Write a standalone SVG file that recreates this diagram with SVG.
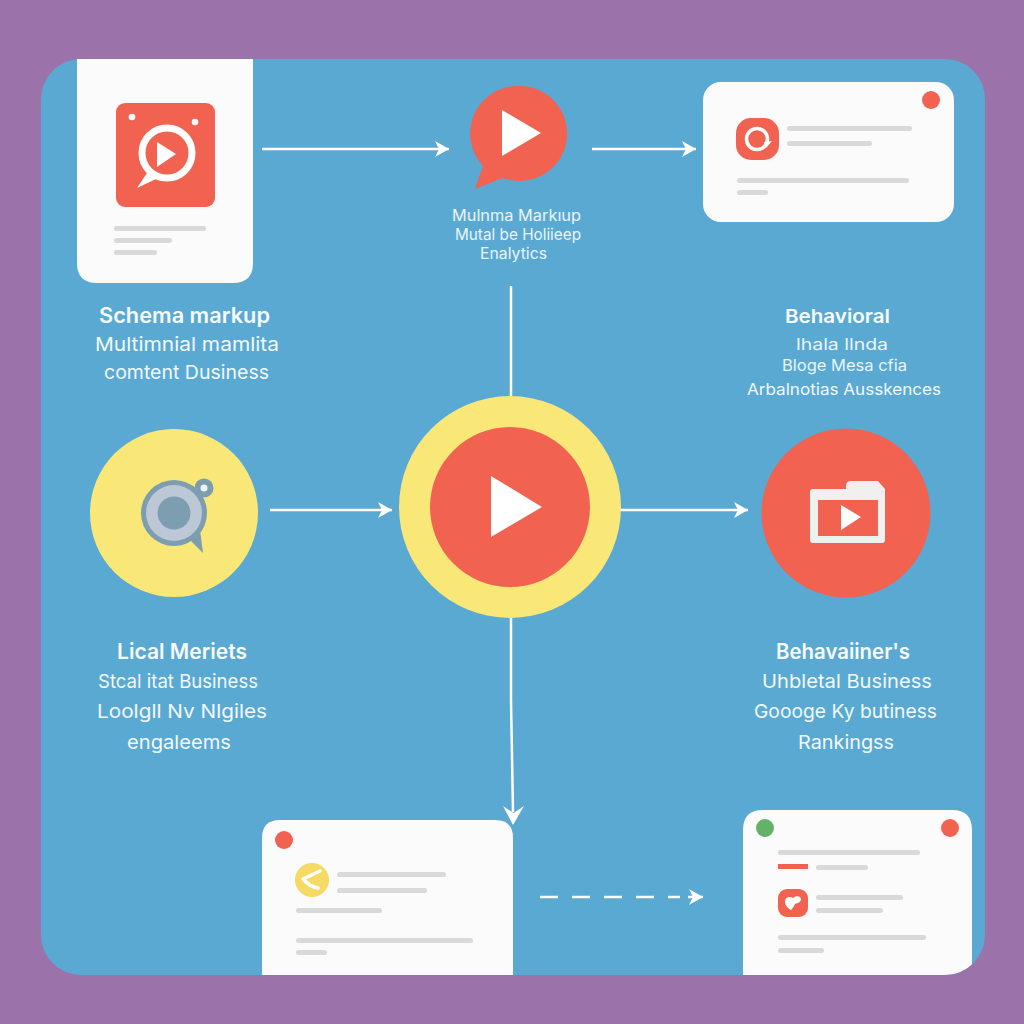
<svg xmlns="http://www.w3.org/2000/svg" width="1024" height="1024" viewBox="0 0 1024 1024">
<style>
.card{fill:#fbfbfb}
.bar{fill:#d9d9da}
.red{fill:#f16250}
.wht{fill:#fff}
.yel{fill:#f9e878}
.dot{fill:#f16250}
.ln{fill:none;stroke:#fff;stroke-width:2.500}
.t{font-family:"Inter","Liberation Sans",sans-serif;fill:#f2f9fc;text-anchor:middle;font-size:19px}
.h{font-family:"Inter","Liberation Sans",sans-serif;fill:#f7fbfd;text-anchor:middle;font-size:21px;font-weight:600}
.s{font-family:"Inter","Liberation Sans",sans-serif;fill:#eaf5fa;text-anchor:middle;font-size:15.500px}
</style>
<defs>
<marker id="arr" markerUnits="userSpaceOnUse" markerWidth="20" markerHeight="20" refX="15" refY="10" orient="auto"><path d="M1 2L15 10L1 18L5 10Z" fill="#fff"/></marker>
<clipPath id="panel"><rect x="41" y="59" width="944" height="916" rx="40"/></clipPath>
</defs>
<rect id="background" width="1024" height="1024" fill="#9b72aa"/>
<rect id="panel-bg" x="41" y="59" width="944" height="916" rx="40" fill="#5aa9d3"/>

<g id="connectors">
<path class="ln" d="M262 149H449" marker-end="url(#arr)"/>
<path class="ln" d="M592 149H696" marker-end="url(#arr)"/>
<path class="ln" d="M511 286V396"/>
<path class="ln" d="M270 510H392" marker-end="url(#arr)"/>
<path class="ln" d="M620 510H748" marker-end="url(#arr)"/>
<path class="ln" d="M511 618V700L513 812"/>
<path class="ln" d="M540 897H680" stroke-dasharray="18 14"/>
<path class="ln" d="M688 897H703" marker-end="url(#arr)"/>
</g>

<g id="node-schema-card">
<path class="card" d="M77 59H253V263Q253 283 233 283H97Q77 283 77 263Z"/>
<rect class="red" x="116" y="103" width="99" height="104" rx="9"/>
<circle class="wht" cx="132" cy="117" r="3.300"/><circle class="wht" cx="195" cy="122" r="3.300"/>
<path class="wht" d="M147 173L137 188L158 178Z"/>
<circle cx="167" cy="153" r="25" fill="none" stroke="#fff" stroke-width="7"/>
<path class="wht" d="M157 142L176 154L157 167Z"/>
<rect class="bar" x="114" y="226" width="92" height="5" rx="2.500"/>
<rect class="bar" x="114" y="238" width="58" height="5" rx="2.500"/>
<rect class="bar" x="114" y="250" width="43" height="5" rx="2.500"/>
</g>
<g id="label-schema">
<text class="h" x="184.500" y="323" textLength="171" lengthAdjust="spacingAndGlyphs">Schema markup</text>
<text class="t" x="187" y="351" textLength="184" lengthAdjust="spacingAndGlyphs">Multimnial mamlita</text>
<text class="t" x="186.500" y="379" textLength="165" lengthAdjust="spacingAndGlyphs">comtent  Dusiness</text>
</g>

<g id="node-play-bubble">
<path class="red" d="M519 86A47.500 47.500 0 1 1 503 178L475 189L483 166A47.500 47.500 0 0 1 519 86Z"/>
<path class="wht" d="M502 110L541 133L502 156Z"/>
</g>
<g id="label-multimedia">
<text class="s" x="516.500" y="221" textLength="129" lengthAdjust="spacingAndGlyphs">Mulnma Markıup</text>
<text class="s" x="518" y="240" textLength="126" lengthAdjust="spacingAndGlyphs">Mutal be Holiieep</text>
<text class="s" x="513.500" y="259" textLength="67" lengthAdjust="spacingAndGlyphs">Enalytics</text>
</g>

<g id="node-top-card">
<rect class="card" x="703" y="82" width="251" height="140" rx="18"/>
<circle class="dot" cx="931" cy="100" r="9"/>
<rect class="red" x="736" y="118" width="43" height="42" rx="15"/>
<circle cx="757" cy="139" r="10.500" fill="none" stroke="#fff" stroke-width="3.500"/>
<path class="wht" d="M764 142L772 141L766 148Z"/>
<rect class="bar" x="787" y="126" width="125" height="5" rx="2.500"/>
<rect class="bar" x="787" y="141" width="85" height="5" rx="2.500"/>
<rect class="bar" x="737" y="178" width="172" height="5" rx="2.500"/>
<rect class="bar" x="737" y="190" width="31" height="5" rx="2.500"/>
</g>
<g id="label-behavioral">
<text class="h" x="837.500" y="323" style="font-size:19px" textLength="105" lengthAdjust="spacingAndGlyphs">Behavioral</text>
<text class="s" x="842" y="350" style="font-size:16px" textLength="92" lengthAdjust="spacingAndGlyphs">lhala  llnda</text>
<text class="s" x="844.500" y="371" textLength="125" lengthAdjust="spacingAndGlyphs">Bloge Mesa cfia</text>
<text class="t" x="844" y="395" style="font-size:16.500px" textLength="194" lengthAdjust="spacingAndGlyphs">Arbalnotias  Ausskences</text>
</g>

<g id="node-search">
<circle class="yel" cx="174" cy="513" r="84"/>
<path d="M190 540L203 553L200 530Z" fill="#7d9db0"/>
<circle cx="204" cy="488" r="9.500" fill="#7d9db0"/>
<circle cx="204" cy="488" r="3.500" fill="#eef3f5"/>
<circle cx="174" cy="513" r="33" fill="#7d9db0"/>
<circle cx="174" cy="513" r="28" fill="#bcc8d6"/>
<circle cx="174" cy="513" r="16.500" fill="#7d9db0"/>
</g>
<g id="label-local">
<text class="h" x="182" y="659" textLength="130" lengthAdjust="spacingAndGlyphs">Lical Meriets</text>
<text class="t" x="178" y="688" textLength="160" lengthAdjust="spacingAndGlyphs">Stcal itat Business</text>
<text class="t" x="182" y="718" textLength="170" lengthAdjust="spacingAndGlyphs">Loolgll Nv Nlgiles</text>
<text class="t" x="179" y="749" textLength="104" lengthAdjust="spacingAndGlyphs">engaleems</text>
</g>

<g id="node-center-play">
<circle class="yel" cx="510" cy="507" r="111"/>
<circle class="red" cx="510" cy="507" r="80"/>
<path class="wht" d="M491 476L542 507L491 537Z"/>
</g>

<g id="node-folder">
<circle class="red" cx="846" cy="513" r="84.500"/>
<path d="M813 489H846V486Q846 481 851 481H878L885 489V540Q885 543 882 543H813Q810 543 810 540V492Q810 489 813 489Z" fill="#f0f0f0"/>
<rect class="red" x="818" y="500" width="60" height="36"/>
<path class="wht" d="M841 505L861 517L841 530Z"/>
</g>
<g id="label-rankings">
<text class="h" x="843" y="659" textLength="134" lengthAdjust="spacingAndGlyphs">Behavaiiner's</text>
<text class="t" x="847" y="688" textLength="170" lengthAdjust="spacingAndGlyphs">Uhbletal Business</text>
<text class="t" x="845.500" y="718" textLength="183" lengthAdjust="spacingAndGlyphs">Goooge Ky butiness</text>
<text class="t" x="846" y="749" textLength="96" lengthAdjust="spacingAndGlyphs">Rankingss</text>
</g>

<g id="node-bottom-left-card" clip-path="url(#panel)">
<path class="card" d="M262 838Q262 820 280 820H495Q513 820 513 838V975H262Z"/>
<circle class="dot" cx="284" cy="840" r="9"/>
<circle cx="312" cy="880" r="17" fill="#f6da66"/>
<path d="M303 879L320 871M303 879Q310 887 318 888" fill="none" stroke="#fff" stroke-width="3.500" stroke-linecap="round"/>
<rect class="bar" x="337" y="872" width="109" height="5" rx="2.500"/>
<rect class="bar" x="337" y="888" width="90" height="5" rx="2.500"/>
<rect class="bar" x="296" y="908" width="86" height="5" rx="2.500"/>
<rect class="bar" x="296" y="938" width="177" height="5" rx="2.500"/>
<rect class="bar" x="296" y="950" width="31" height="5" rx="2.500"/>
</g>

<g id="node-bottom-right-card" clip-path="url(#panel)">
<path class="card" d="M743 830Q743 810 763 810H952Q972 810 972 830V975H743Z"/>
<circle cx="765" cy="828" r="9" fill="#64b16a"/>
<circle class="dot" cx="950" cy="828" r="9"/>
<rect class="bar" x="778" y="850" width="142" height="5" rx="2.500"/>
<rect class="dot" x="778" y="864" width="30" height="5"/>
<rect class="bar" x="816" y="865" width="52" height="5" rx="2.500"/>
<rect class="red" x="778" y="889" width="30" height="28" rx="9"/>
<path class="wht" d="M791 910C786 907 785 904 785 901C785 897 790 896 793 898C796 895 801 896 801 899C801 902 798 903 795 904C794 906 793 908 791 910Z"/>
<rect class="bar" x="816" y="895" width="87" height="5" rx="2.500"/>
<rect class="bar" x="816" y="908" width="67" height="5" rx="2.500"/>
<rect class="bar" x="778" y="935" width="148" height="5" rx="2.500"/>
<rect class="bar" x="778" y="948" width="46" height="5" rx="2.500"/>
</g>
<path d="M503 806L513 825L524 806L513.500 813Z" fill="#fff"/>
</svg>
